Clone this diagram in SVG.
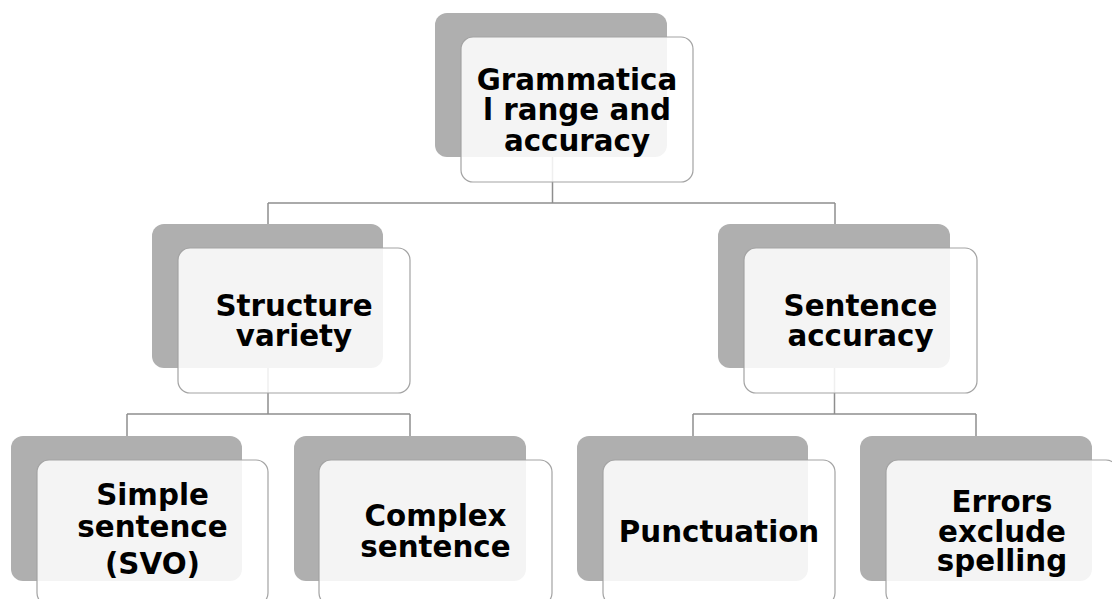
<svg xmlns="http://www.w3.org/2000/svg" width="1112" height="599" viewBox="0 0 1112 599">
<style>
.bg{fill:#afafaf;}
.fg{fill:#ffffff;fill-opacity:0.86;stroke:#a3a3a3;stroke-width:1.2;}
.lbl{font-family:"DejaVu Sans",sans-serif;font-weight:bold;font-size:29.33px;fill:#000;text-anchor:middle;}
.conn{fill:none;stroke:#8e8e8e;stroke-width:1.5;}
</style>
<rect width="1112" height="599" fill="#ffffff"/>
<g id="connectors">
<path class="conn" d="M552.5 157 V203 M268 203 H835 M268 203 V224 M835 203 V224"/>
<path class="conn" d="M268 368 V414 M127 414 H410 M127 414 V436 M410 414 V436"/>
<path class="conn" d="M834.5 368 V414 M693 414 H976 M693 414 V436 M976 414 V436"/>
</g>
<g id="node-grammatical">
<rect class="bg" x="435" y="13" width="232" height="144" rx="12"/>
<rect class="fg" x="461" y="37" width="232" height="145" rx="12"/>
<text class="lbl"><tspan x="577" y="89.5">Grammatica</tspan><tspan x="577" y="120">l range and</tspan><tspan x="577" y="150.5">accuracy</tspan></text>
</g>
<g id="node-structure">
<rect class="bg" x="152" y="224" width="231" height="144" rx="12"/>
<rect class="fg" x="178" y="248" width="232" height="145" rx="12"/>
<text class="lbl"><tspan x="294" y="316">Structure</tspan><tspan x="294" y="345.5">variety</tspan></text>
</g>
<g id="node-sentence-accuracy">
<rect class="bg" x="718" y="224" width="232" height="144" rx="12"/>
<rect class="fg" x="744" y="248" width="233" height="145" rx="12"/>
<text class="lbl"><tspan x="860.5" y="316">Sentence</tspan><tspan x="860.5" y="345.5">accuracy</tspan></text>
</g>
<g id="node-simple">
<rect class="bg" x="11" y="436" width="231" height="145" rx="12"/>
<rect class="fg" x="37" y="460" width="231" height="145" rx="12"/>
<text class="lbl"><tspan x="152.5" y="505">Simple</tspan><tspan x="152.5" y="537">sentence</tspan><tspan x="152.5" y="574">(SVO)</tspan></text>
</g>
<g id="node-complex">
<rect class="bg" x="294" y="436" width="232" height="145" rx="12"/>
<rect class="fg" x="319" y="460" width="233" height="145" rx="12"/>
<text class="lbl"><tspan x="435.5" y="526">Complex</tspan><tspan x="435.5" y="557">sentence</tspan></text>
</g>
<g id="node-punctuation">
<rect class="bg" x="577" y="436" width="231" height="145" rx="12"/>
<rect class="fg" x="603" y="460" width="232" height="145" rx="12"/>
<text class="lbl"><tspan x="719" y="542">Punctuation</tspan></text>
</g>
<g id="node-errors">
<rect class="bg" x="860" y="436" width="232" height="145" rx="12"/>
<rect class="fg" x="886" y="460" width="232" height="145" rx="12"/>
<text class="lbl"><tspan x="1002" y="512">Errors</tspan><tspan x="1002" y="542">exclude</tspan><tspan x="1002" y="571">spelling</tspan></text>
</g>
</svg>
